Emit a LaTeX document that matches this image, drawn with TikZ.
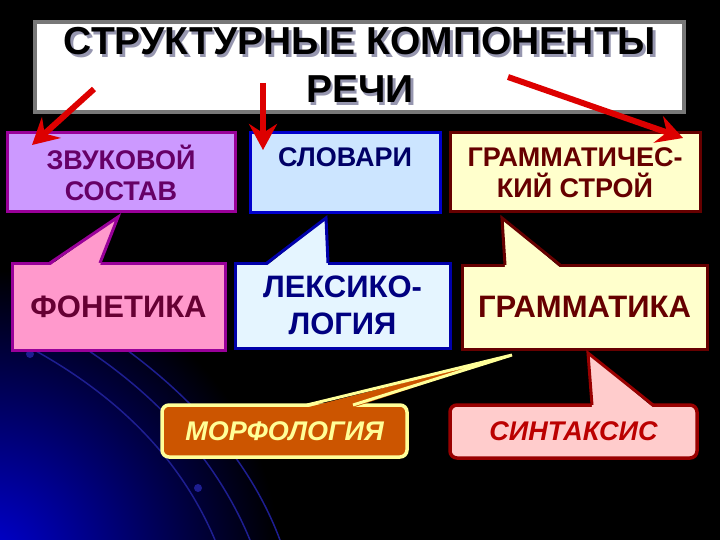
\documentclass[tikz,border=0pt]{standalone}
\usepackage{fontspec}
\setmainfont{Liberation Sans}
\usetikzlibrary{arrows.meta, calc}
\definecolor{glowblue}{RGB}{0, 0, 215}
\definecolor{orbit}{RGB}{30, 30, 145}
\definecolor{titlegray}{RGB}{120, 120, 120}
\definecolor{titleshadow}{RGB}{150, 150, 175}
\definecolor{arrowred}{RGB}{221, 0, 0}
\definecolor{zvfill}{RGB}{204, 153, 255}
\definecolor{zvline}{RGB}{153, 0, 153}
\definecolor{zvtext}{RGB}{102, 0, 102}
\definecolor{fonfill}{RGB}{255, 153, 204}
\definecolor{fonline}{RGB}{153, 0, 153}
\definecolor{fontext}{RGB}{102, 0, 51}
\definecolor{slovfill}{RGB}{204, 229, 255}
\definecolor{slovline}{RGB}{0, 0, 204}
\definecolor{slovtext}{RGB}{0, 0, 102}
\definecolor{leksfill}{RGB}{229, 245, 255}
\definecolor{leksline}{RGB}{0, 0, 170}
\definecolor{lekstext}{RGB}{0, 0, 128}
\definecolor{gramfill}{RGB}{255, 255, 204}
\definecolor{gramline}{RGB}{102, 0, 0}
\definecolor{gramtext}{RGB}{102, 0, 0}
\definecolor{morffill}{RGB}{204, 85, 0}
\definecolor{morfline}{RGB}{255, 255, 153}
\definecolor{morftext}{RGB}{255, 255, 153}
\definecolor{sintfill}{RGB}{255, 204, 204}
\definecolor{sintline}{RGB}{153, 0, 0}
\definecolor{sinttext}{RGB}{187, 0, 0}
\tikzset{
    box/.style={rectangle, line width=3pt, outer sep=0pt, inner sep=0pt, align=center},
    topbox/.style={box, font=\bfseries\fontsize{27}{31}\selectfont},
    midbox/.style={box, font=\bfseries\fontsize{31}{37}\selectfont},
    lowbox/.style={box, rounded corners=7pt, line width=3.5pt, font=\bfseries\itshape\fontsize{27}{31}\selectfont},
    zvbox/.style={topbox, fill=zvfill, draw=zvline, text=zvtext},
    slovbox/.style={topbox, fill=slovfill, draw=slovline, text=slovtext},
    grambox/.style={topbox, fill=gramfill, draw=gramline, text=gramtext},
    fonbox/.style={midbox, fill=fonfill, draw=fonline, text=fontext},
    leksbox/.style={midbox, fill=leksfill, draw=leksline, text=lekstext},
    grammbox/.style={midbox, fill=gramfill, draw=gramline, text=gramtext},
    morfbox/.style={lowbox, fill=morffill, draw=morfline, text=morftext},
    sintbox/.style={lowbox, fill=sintfill, draw=sintline, text=sinttext},
    titletext/.style={align=center, inner sep=0pt, font=\bfseries\fontsize{39}{48}\selectfont},
    redarrow/.style={arrowred, line width=6pt, -{Stealth[length=26pt, width=28pt, inset=9pt]}}
}

\begin{document}
\begin{tikzpicture}[x=1pt, y=-1pt]
    % background and glow
    \fill[black] (0,0) rectangle (720,540);
    \useasboundingbox (0,0) rectangle (720,540);
    \begin{scope}
        \clip (0,0) rectangle (720,540);
        \shade[inner color=glowblue, outer color=black] (-15,565) circle (295);
        \draw[orbit, line width=1.5pt] (25,345) .. controls (100,385) and (175,445) .. (215,540);
        \draw[orbit, line width=1.5pt] (80,345) .. controls (150,390) and (215,455) .. (250,540);
        \draw[orbit, line width=1.5pt] (120,345) .. controls (190,395) and (250,460) .. (280,540);
        \fill[orbit] (30,354) circle (4);
        \fill[orbit] (198,488) circle (4);
    \end{scope}

    % title
    \node[rectangle, fill=white, draw=titlegray, line width=4pt, minimum width=649pt, minimum height=90pt] (tbox) at (359.5,67) {};
    \node[titletext, text=titleshadow] (tshadow) at (362.5,68) {СТРУКТУРНЫЕ КОМПОНЕНТЫ\\РЕЧИ};
    \node[titletext, text=black] (ttext) at (360,65) {СТРУКТУРНЫЕ КОМПОНЕНТЫ\\РЕЧИ};

    % top row
    \node[zvbox, minimum width=228pt, minimum height=79pt] (zvuk) at (121,172.5) {ЗВУКОВОЙ\\СОСТАВ};
    \node[slovbox, minimum width=190pt, minimum height=80pt] (slov) at (345,173) {СЛОВАРИ\\\mbox{}};
    \node[grambox, minimum width=250pt, minimum height=79pt] (gram) at (575,172.5) {ГРАММАТИЧЕС-\\КИЙ СТРОЙ};

    % middle row
    \node[fonbox, minimum width=213pt, minimum height=87pt] (fon) at (118.5,306.5) {ФОНЕТИКА};
    \node[leksbox, minimum width=215pt, minimum height=85pt] (leks) at (342.5,305.5) {ЛЕКСИКО-\\ЛОГИЯ};
    \node[grammbox, minimum width=245pt, minimum height=84pt] (gramm) at (584.5,307) {ГРАММАТИКА};

    % bottom row
    \node[morfbox, minimum width=245pt, minimum height=52pt] (morf) at (284.5,431) {МОРФОЛОГИЯ};
    \node[sintbox, minimum width=247pt, minimum height=53pt] (sint) at (573.5,431.5) {СИНТАКСИС};

    % callout tips
    \coordinate (tfon) at (118,217);
    \coordinate (tleks) at (326,218);
    \coordinate (tgramm) at (502,218);
    \coordinate (tmorf) at (512,355);
    \coordinate (tsint) at (588,353);

    \foreach \nm/\pa/\pb/\tp/\cl in {fon/38/88/tfon/fon, leks/32/93/tleks/leks, gramm/43/98/tgramm/gram, morf/145/191/tmorf/morf, sint/142/203/tsint/sint}
    {
        \fill[\cl fill] ([xshift=\pa pt, yshift=-2.5pt]\nm.north west) -- (\tp) -- ([xshift=\pb pt, yshift=-2.5pt]\nm.north west) -- cycle;
        \draw[\cl line, line width=3pt] ([xshift=\pa pt]\nm.north west) -- (\tp) -- ([xshift=\pb pt]\nm.north west);
    }

    % arrows from the title
    \coordinate (a1s) at (94,89);
    \coordinate (a1e) at (32,145);
    \coordinate (a2s) at (263,83);
    \coordinate (a2e) at (263,150);
    \coordinate (a3s) at (508,77);
    \coordinate (a3e) at (683,138);
    \draw[redarrow] (a1s) -- (a1e);
    \draw[redarrow] (a2s) -- (a2e);
    \draw[redarrow] (a3s) -- (a3e);
\end{tikzpicture}
\end{document}
